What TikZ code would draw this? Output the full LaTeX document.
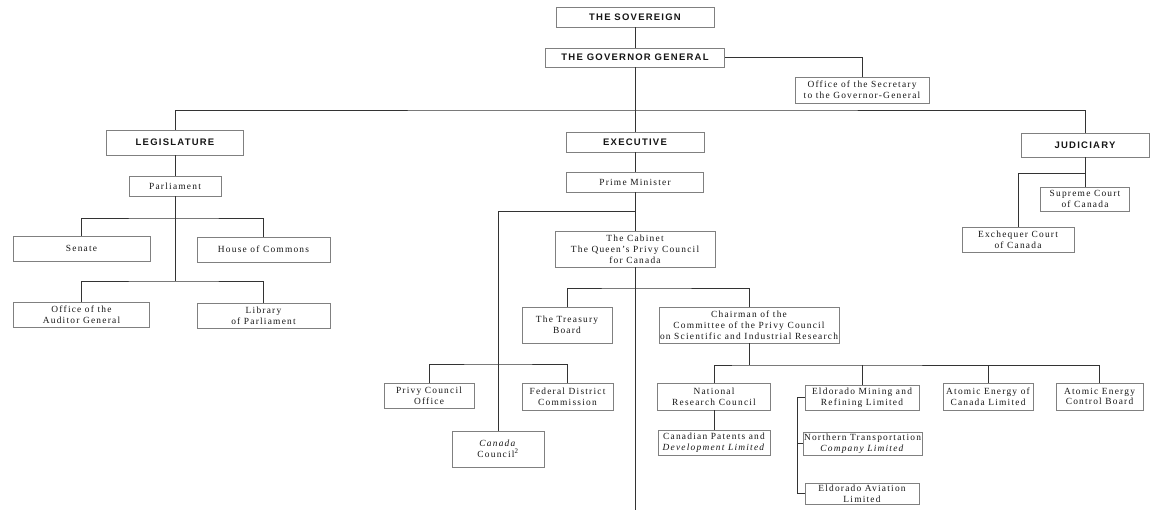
\documentclass[tikz,border=0pt]{standalone}
\usepackage{fontspec}
\setmainfont[LetterSpace=13]{Liberation Serif}
\newfontfamily\hdfont[LetterSpace=13]{Liberation Sans}
\definecolor{lncol}{HTML}{333333}
\definecolor{bxcol}{HTML}{808080}
\definecolor{txcol}{HTML}{161616}
\begin{document}
\begin{tikzpicture}[x=1pt,y=-1pt,
  box/.style={draw=bxcol, line width=0.8pt, fill=white, inner sep=1pt, align=center,
    text=txcol, font=\fontsize{9.4}{10.8}\selectfont},
  hbox/.style={box, font=\hdfont\bfseries\fontsize{9.5}{11}\selectfont},
  conn/.style={draw=lncol, line width=0.85pt}]
\useasboundingbox (0,0) rectangle (1154,510);
% coordinates for bars
\coordinate (bar) at (635,110);
\coordinate (pb1) at (175,218);
\coordinate (pb2) at (175,281);
\coordinate (pmb) at (635,211);
\coordinate (cb) at (635,288);
\coordinate (pcb) at (498,364);
\coordinate (chb) at (749,365);
\coordinate (brx) at (797,0);
\coordinate (jb) at (1085,173);
\coordinate (bot) at (635,510);

% boxes
\node[hbox, minimum width=158, minimum height=20] (sov) at (635,17) {THE SOVEREIGN};
\node[hbox, minimum width=179, minimum height=19] (gg) at (635,57.5) {THE GOVERNOR GENERAL};
\node[box, minimum width=134, minimum height=26] (osec) at (862,90) {Office of the Secretary\\to the Governor-General};
\node[hbox, minimum width=137, minimum height=25] (leg) at (175,142.5) {LEGISLATURE};
\node[hbox, minimum width=138, minimum height=20] (exec) at (635,142) {EXECUTIVE};
\node[hbox, minimum width=128, minimum height=24] (jud) at (1085,145) {JUDICIARY};
\node[box, minimum width=92, minimum height=20] (parl) at (175,186) {Parliament};
\node[box, minimum width=137, minimum height=20] (pm) at (635,182) {Prime Minister};
\node[box, minimum width=137, minimum height=25] (senate) at (81.5,248.5) {Senate};
\node[box, minimum width=133, minimum height=25] (hoc) at (263.5,249.5) {House of Commons};
\node[box, minimum width=136, minimum height=25] (aud) at (81.5,314.5) {Office of the\\Auditor General};
\node[box, minimum width=133, minimum height=25] (lib) at (263.5,315.5) {Library\\of Parliament};
\node[box, minimum width=160, minimum height=36] (cab) at (635,249) {The Cabinet\\The Queen's Privy Council\\for Canada};
\node[box, minimum width=90, minimum height=36] (treas) at (567,325) {The Treasury\\Board};
\node[box, minimum width=180, minimum height=36] (chair) at (749,325) {Chairman of the\\Committee of the Privy Council\\on Scientific and Industrial Research};
\node[box, minimum width=90, minimum height=25] (pco) at (429,395.5) {Privy Council\\Office};
\node[box, minimum width=91, minimum height=27] (fdc) at (567.5,396.5) {Federal District\\Commission};
\node[box, minimum width=92, minimum height=36] (ccouncil) at (498,449) {\textit{Canada}\\Council\textsuperscript{\fontsize{7}{7}\selectfont 2}};
\node[box, minimum width=113, minimum height=27] (nrc) at (714,396.5) {National\\Research Council};
\node[box, minimum width=112, minimum height=25] (cpat) at (714,442.5) {Canadian Patents and\\\textit{Development Limited}};
\node[box, minimum width=114, minimum height=25] (eldm) at (862,397.5) {Eldorado Mining and\\Refining Limited};
\node[box, minimum width=113, minimum height=23] (ntc) at (862.5,443.5) {Northern Transportation\\\textit{Company Limited}};
\node[box, minimum width=114, minimum height=21] (elda) at (862,493.5) {Eldorado Aviation\\Limited};
\node[box, minimum width=90, minimum height=27] (aecl) at (988,396.5) {Atomic Energy of\\Canada Limited};
\node[box, minimum width=87, minimum height=27] (aecb) at (1099.5,396.5) {Atomic Energy\\Control Board};
\node[box, minimum width=89, minimum height=24] (sup) at (1085,199) {Supreme Court\\of Canada};
\node[box, minimum width=112, minimum height=25] (exch) at (1018,239.5) {Exchequer Court\\of Canada};

% connectors
\draw[conn] (sov.south) -- (gg.north);
\draw[conn] (gg.south) -- (exec.north);
\draw[conn] (gg.east) -| (osec.north);
\draw[conn] (leg.north) |- (bar) -| (jud.north);
\draw[conn] (leg.south) -- (parl.north);
\draw[conn] (parl.south) -- (pb2);
\draw[conn] (senate.north) |- (pb1) -| (hoc.north);
\draw[conn] (aud.north) |- (pb2) -| (lib.north);
\draw[conn] (exec.south) -- (pm.north);
\draw[conn] (pm.south) -- (cab.north);
\draw[conn] (pmb) -| (ccouncil.north);
\draw[conn] (cab.south) -- (bot);
\draw[conn] (treas.north) |- (cb) -| (chair.north);
\draw[conn] (pco.north) |- (pcb) -| (fdc.north);
\draw[conn] (chair.south) -- (chb);
\draw[conn] (nrc.north) |- (chb) -| (aecb.north);
\draw[conn] (eldm.north) -- (eldm.north |- chb);
\draw[conn] (aecl.north) -- (aecl.north |- chb);
\draw[conn] (nrc.south) -- (cpat.north);
\draw[conn] (eldm.west) -- (eldm.west -| brx) |- (elda.west);
\draw[conn] (ntc.west) -- (ntc.west -| brx);
\draw[conn] (jud.south) -- (sup.north);
\draw[conn] (exch.north) |- (jb);
\end{tikzpicture}
\end{document}
